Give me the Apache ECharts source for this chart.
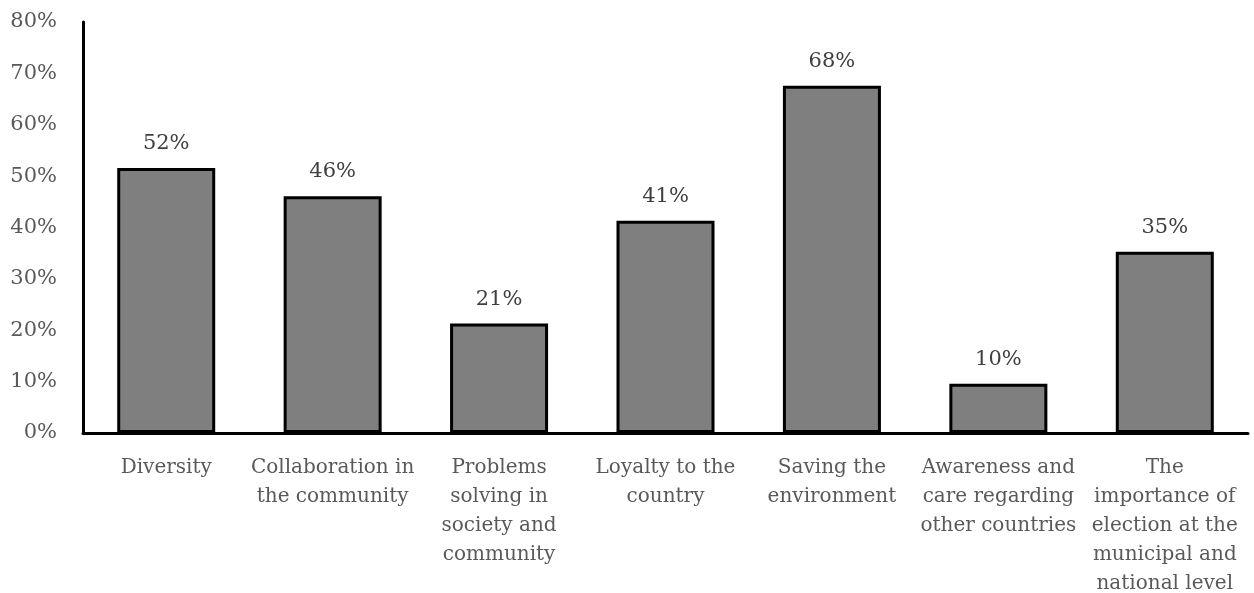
<!DOCTYPE html>
<html>
<head>
<meta charset="utf-8">
<script src="https://cdn.jsdelivr.net/npm/echarts@6/dist/echarts.min.js"></script>
<style>html,body{margin:0;padding:0;background:#fff;}#c{width:1254px;height:593px;}</style>
</head>
<body>
<div id="c"></div>
<script>
const categories = [
  "Diversity",
  "Collaboration in\nthe community",
  "Problems\nsolving in\nsociety and\ncommunity",
  "Loyalty to the\ncountry",
  "Saving the\nenvironment",
  "Awareness and\ncare regarding\nother countries",
  "The\nimportance of\nelection at the\nmunicipal and\nnational level"
];
const values = [51.6, 46.1, 21.3, 41.3, 67.6, 9.6, 35.3];
const valueLabels = ["52%", "46%", "21%", "41%", "68%", "10%", "35%"];
const yTicks = [0, 10, 20, 30, 40, 50, 60, 70, 80];

const FONT = "DejaVu Serif";
const chart = echarts.init(document.getElementById('c'), null, {renderer: 'canvas'});
chart.setOption({
  animation: false,
  backgroundColor: '#ffffff',
  grid: {left: 83, right: 6, top: 22, bottom: 160, containLabel: false, outerBoundsMode: 'none'},
  xAxis: {
    type: 'category',
    data: categories,
    axisLine: {show: true, lineStyle: {color: '#000', width: 3}},
    axisTick: {show: false},
    axisLabel: {
      interval: 0,
      color: '#595959',
      fontFamily: FONT,
      fontSize: 20,
      lineHeight: 29,
      margin: 20,
      align: 'center'
    }
  },
  yAxis: {
    type: 'value',
    min: yTicks[0],
    max: yTicks[yTicks.length - 1],
    interval: 10,
    axisLine: {show: true, lineStyle: {color: '#000', width: 3}},
    axisTick: {show: false},
    splitLine: {show: false},
    axisLabel: {
      color: '#595959',
      fontFamily: FONT,
      fontSize: 21,
      margin: 26,
      formatter: v => v + '%'
    }
  },
  series: [{
    type: 'bar',
    data: values,
    barWidth: 98,
    itemStyle: {color: '#7f7f7f', borderColor: '#000', borderWidth: 3},
    label: {
      show: true,
      position: 'top',
      distance: 14,
      color: '#404040',
      fontFamily: FONT,
      fontSize: 21,
      formatter: p => valueLabels[p.dataIndex]
    }
  }]
});
</script>
</body>
</html>
